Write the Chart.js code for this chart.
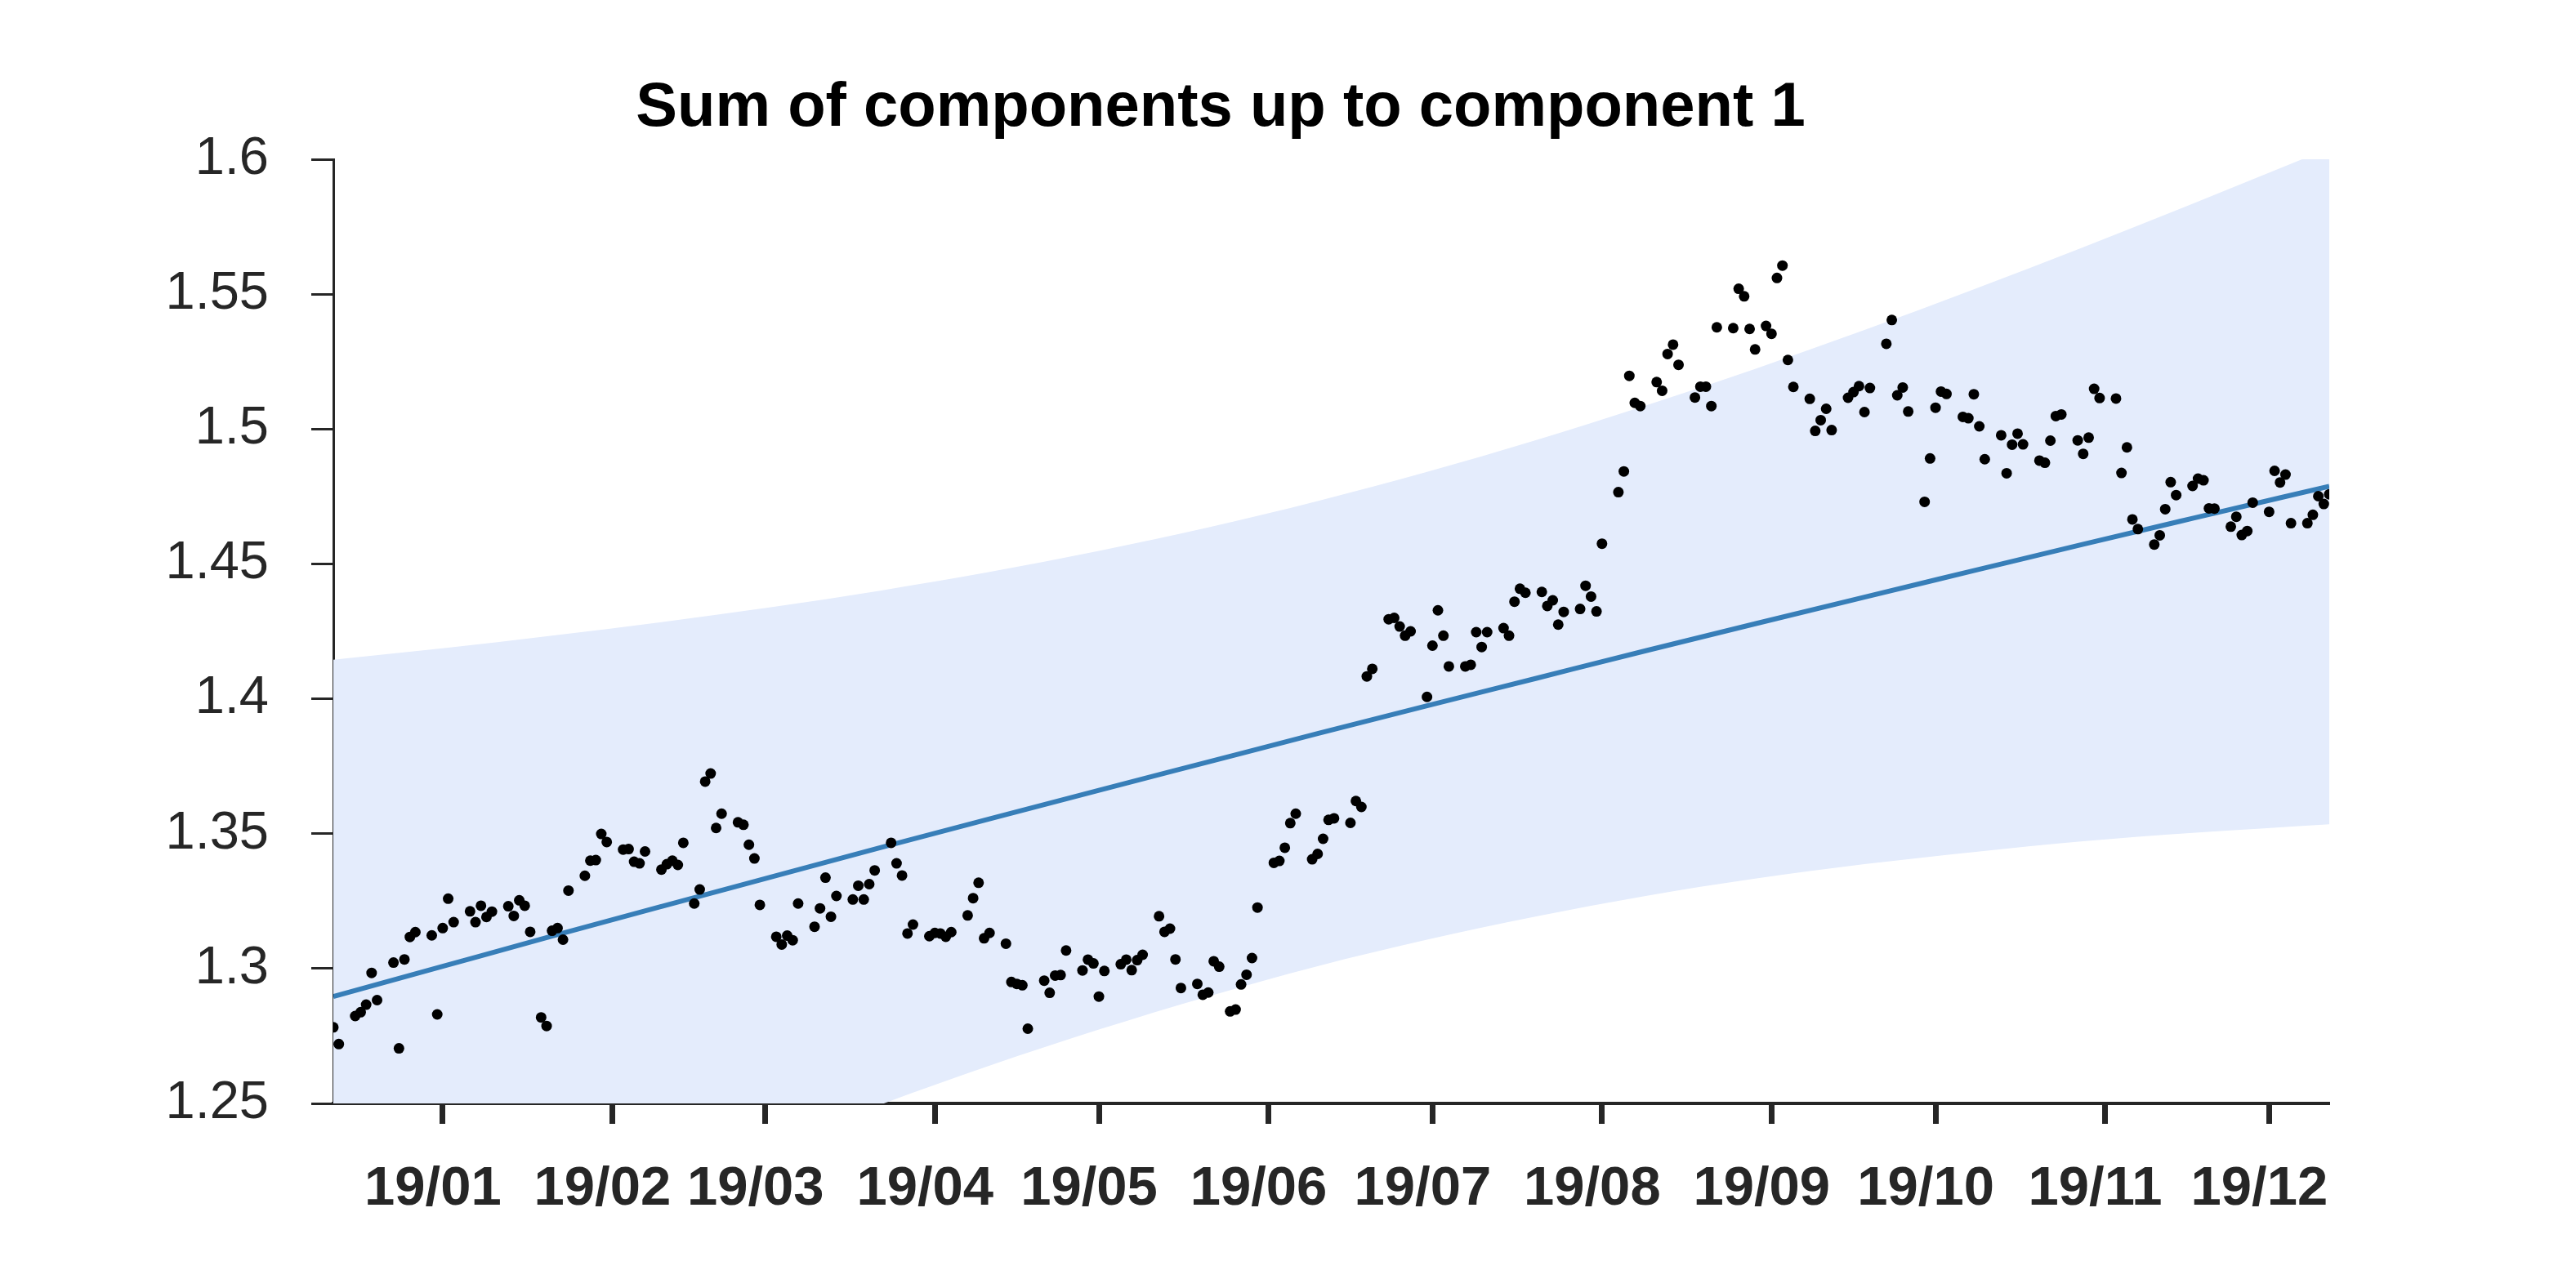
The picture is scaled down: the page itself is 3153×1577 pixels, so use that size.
<!DOCTYPE html>
<html>
<head>
<meta charset="utf-8">
<script src="https://cdn.jsdelivr.net/npm/chart.js@4.4.1/dist/chart.umd.min.js"></script>
<style>
html, body { margin: 0; padding: 0; background: #fff; }
</style>
</head>
<body>
<canvas id="chart" width="3153" height="1577"></canvas>
<script>
// day offsets from 2019-01-01 and observed values
var days = [-20,-19,-16,-15,-14,-13,-12,-9,-8,-7,-6,-5,-2,-1,0,1,2,5,6,7,8,9,12,13,14,15,16,18,19,20,21,22,23,
  26,27,28,29,30,33,34,35,36,37,40,41,42,43,44,46,47,48,49,50,51,54,55,56,57,58,
  61,62,63,64,65,68,69,70,71,72,75,76,77,78,79,82,83,84,85,86,89,90,91,92,93,96,97,98,99,100,
  103,104,105,106,107,110,111,112,113,114,117,118,119,120,121,124,125,126,127,128,
  131,132,133,134,135,138,139,140,141,142,144,145,146,147,148,149,152,153,154,155,156,
  159,160,161,162,163,166,167,168,169,170,173,174,175,176,177,180,181,182,183,184,
  187,188,189,190,191,194,195,196,197,198,201,202,203,204,205,208,209,210,211,212,
  215,216,217,218,219,222,223,224,225,226,229,230,231,232,233,236,237,238,239,240,
  242,243,244,245,246,247,250,251,252,253,254,257,258,259,260,261,264,265,266,267,268,
  271,272,273,274,275,278,279,280,281,282,285,286,287,288,289,292,293,294,295,296,
  299,300,301,302,303,306,307,308,309,310,313,314,315,316,317,320,321,322,323,324,
  327,328,329,330,331,334,335,336,337,338,341,342,343,344,345];
var values = [1.2782,1.2720,1.2824,1.2838,1.2866,1.2984,1.2883,1.3022,1.2704,1.3034,1.3117,1.3135,1.3123,1.2830,1.3150,1.3259,1.3172,
  1.3212,1.3172,1.3233,1.3191,1.3211,1.3231,1.3195,1.3253,1.3233,1.3136,1.2819,1.2787,1.3140,1.3150,1.3107,1.3289,
  1.3344,1.3400,1.3402,1.3499,1.3469,1.3441,1.3443,1.3396,1.3390,1.3434,1.3367,1.3387,1.3400,1.3384,1.3466,
  1.3241,1.3293,1.3693,1.3723,1.3521,1.3574,1.3542,1.3533,1.3459,1.3408,1.3236,
  1.3118,1.3089,1.3122,1.3105,1.3241,1.3155,1.3223,1.3337,1.3192,1.3269,1.3256,1.3307,1.3256,1.3313,1.3364,
  1.3466,1.3390,1.3345,1.3130,1.3163,1.3120,1.3132,1.3130,1.3118,1.3135,1.3197,1.3261,1.3318,1.3112,1.3132,
  1.3092,1.2950,1.2943,1.2938,1.2777,1.2955,1.2910,1.2974,1.2976,1.3067,1.2993,1.3033,1.3019,1.2896,1.2991,
  1.3016,1.3033,1.2994,1.3031,1.3051,1.3194,1.3136,1.3148,1.3034,1.2928,1.2943,1.2903,1.2911,1.3027,1.3007,
  1.2841,1.2848,1.2941,1.2977,1.3039,1.3226,1.3392,1.3399,1.3448,1.3539,1.3574,
  1.3405,1.3425,1.3481,1.3551,1.3557,1.3540,1.3621,1.3599,1.4083,1.4111,1.4295,1.4300,1.4268,1.4234,1.4250,
  1.4007,1.4197,1.4328,1.4234,1.4120,1.4120,1.4126,1.4247,1.4192,1.4247,1.4262,1.4234,1.4360,1.4408,1.4393,
  1.4396,1.4344,1.4365,1.4275,1.4322,1.4333,1.4419,1.4379,1.4324,1.4575,
  1.4766,1.4843,1.5197,1.5097,1.5085,1.5174,1.5142,1.5278,1.5313,1.5238,1.5117,1.5157,1.5157,1.5085,1.5377,
  1.5374,1.5520,1.5492,1.5371,1.5295,1.5382,1.5353,1.5560,1.5606,1.5256,1.5156,
  1.5112,1.4993,1.5033,1.5075,1.4996,1.5116,1.5137,1.5159,1.5063,1.5152,1.5316,1.5404,1.5125,1.5154,1.5065,
  1.4730,1.4891,1.5079,1.5139,1.5130,1.5045,1.5040,1.5129,1.5010,1.4888,1.4977,1.4836,1.4942,1.4983,1.4943,
  1.4883,1.4875,1.4957,1.5048,1.5054,1.4958,1.4908,1.4968,1.5149,1.5115,1.5113,1.4837,1.4932,1.4665,1.4629,
  1.4572,1.4606,1.4703,1.4803,1.4755,1.4789,1.4816,1.4810,1.4706,1.4705,1.4638,1.4675,1.4607,1.4622,1.4727,
  1.4693,1.4845,1.4802,1.4831,1.4651,1.4651,1.4682,1.4751,1.4722,1.4758];

// trend line and its band, read every 20 days
var bandDays    = [-20, 0, 20, 40, 60, 80, 100, 120, 140, 160, 180, 200, 220, 240, 260, 280, 300, 320, 345];
var trendValues = [1.2896, 1.3008, 1.3120, 1.3230, 1.3339, 1.3448, 1.3555, 1.3661, 1.3766, 1.3871,
                   1.3974, 1.4076, 1.4178, 1.4278, 1.4377, 1.4475, 1.4573, 1.4669, 1.4788];
var bandUpper   = [1.4145, 1.4187, 1.4234, 1.4284, 1.4339, 1.4401, 1.4470, 1.4548, 1.4635, 1.4733,
                   1.4841, 1.4959, 1.5087, 1.5223, 1.5367, 1.5518, 1.5674, 1.5835, 1.6041];
var bandLower   = [1.1647, 1.1829, 1.2006, 1.2176, 1.2339, 1.2495, 1.2640, 1.2774, 1.2897, 1.3009,
                   1.3107, 1.3193, 1.3269, 1.3333, 1.3387, 1.3432, 1.3472, 1.3503, 1.3535];

var monthDays   = [0, 31, 59, 90, 120, 151, 181, 212, 243, 273, 304, 334];
var monthLabels = ["19/01","19/02","19/03","19/04","19/05","19/06","19/07","19/08","19/09","19/10","19/11","19/12"];
var yTicks      = [1.25, 1.3, 1.35, 1.4, 1.45, 1.5, 1.55, 1.6];
var yTickLabels = ["1.25","1.3","1.35","1.4","1.45","1.5","1.55","1.6"];

function pts(xs, ys) {
  var out = [];
  for (var i = 0; i < xs.length; i++) out.push({x: xs[i], y: ys[i]});
  return out;
}

var titlePlugin = {
  id: 'titleAt',
  afterDraw: function(chart) {
    var ctx = chart.ctx;
    ctx.save();
    ctx.font = 'bold 76px "Liberation Sans", Arial, sans-serif';
    ctx.fillStyle = '#000';
    ctx.textAlign = 'center';
    ctx.textBaseline = 'alphabetic';
    ctx.fillText('Sum of components up to component 1', 1494, 154);
    ctx.restore();
  }
};

Chart.defaults.font.family = '"Liberation Sans", Arial, sans-serif';

var axisColor = '#262626';
var ctx = document.getElementById('chart').getContext('2d');
var chart = new Chart(ctx, {
  type: 'scatter',
  data: {
    datasets: [
      { label: 'points', data: pts(days, values), pointRadius: 6.5, pointHoverRadius: 6.5,
        pointBackgroundColor: '#000', pointBorderWidth: 0, borderColor: '#000', showLine: false, order: 0 },
      { label: 'trend', type: 'line', data: pts(bandDays, trendValues), borderColor: '#377eb8', borderWidth: 6,
        pointRadius: 0, cubicInterpolationMode: 'monotone', fill: false, order: 1 },
      { label: 'upper', type: 'line', data: pts(bandDays, bandUpper), borderColor: 'rgba(0,0,0,0)', borderWidth: 0,
        pointRadius: 0, cubicInterpolationMode: 'monotone', fill: '+1', backgroundColor: '#e4ecfc', order: 2 },
      { label: 'lower', type: 'line', data: pts(bandDays, bandLower), borderColor: 'rgba(0,0,0,0)', borderWidth: 0,
        pointRadius: 0, cubicInterpolationMode: 'monotone', fill: false, order: 3 }
    ]
  },
  options: {
    responsive: false,
    animation: false,
    devicePixelRatio: 1,
    layout: { padding: { left: 0, right: 302, top: 195, bottom: 0 } },
    plugins: { legend: { display: false }, tooltip: { enabled: false }, title: { display: false } },
    scales: {
      x: {
        type: 'linear', min: -20, max: 345,
        afterBuildTicks: function(s) { s.ticks = monthDays.map(function(v) { return {value: v}; }); },
        afterFit: function(s) { s.height = 226; },
        ticks: {
          callback: function(v, i) { return monthLabels[i]; },
          font: { size: 67, weight: 'bold' }, color: axisColor, padding: 40, labelOffset: -12,
          maxRotation: 0, autoSkip: false
        },
        grid: { drawOnChartArea: false, tickLength: 25, tickWidth: 7, tickColor: axisColor },
        border: { width: 4, color: axisColor }
      },
      y: {
        type: 'linear', min: 1.25, max: 1.6,
        afterBuildTicks: function(s) { s.ticks = yTicks.map(function(v) { return {value: v}; }); },
        afterFit: function(s) { s.width = 408; },
        ticks: {
          callback: function(v, i) { return yTickLabels[i]; },
          font: { size: 65 }, color: axisColor, padding: 52
        },
        grid: { drawOnChartArea: false, tickLength: 27, tickWidth: 3, tickColor: axisColor },
        border: { width: 3, color: axisColor }
      }
    }
  },
  plugins: [titlePlugin]
});
</script>
</body>
</html>
